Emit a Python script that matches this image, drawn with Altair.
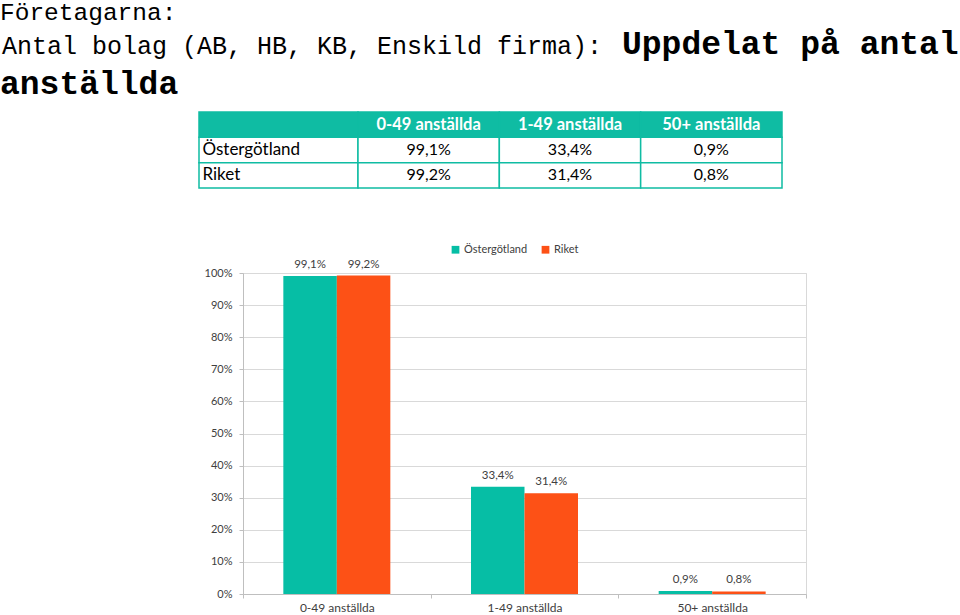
import altair as alt
import pandas as pd

# ---------------- data ----------------
categories = ["0-49 anställda", "1-49 anställda", "50+ anställda"]
regions = ["Östergötland", "Riket"]
ostergotland = [99.1, 33.4, 0.9]
riket = [99.2, 31.4, 0.8]
y_ticks = [0, 10, 20, 30, 40, 50, 60, 70, 80, 90, 100]

title_line1 = "Företagarna:"
title_line2a = "Antal bolag (AB, HB, KB, Enskild firma):"
title_line2b = "Uppdelat på antal"
title_line3 = "anställda"

TEAL = "#06bea5"
ORANGE = "#fd5116"
TABLE_TEAL = "#0fbca3"
FONT = "Lato"
MONO = "Liberation Mono"


def sv_pct(v):
    return f"{v:.1f}".replace(".", ",") + "%"


rows = []
for r, vals in zip(regions, [ostergotland, riket]):
    for c, v in zip(categories, vals):
        rows.append({"region": r, "category": c, "value": v})
df = pd.DataFrame(rows)

# ---------------- bar chart ----------------
fmt_expr = "replace(format(datum.value, '.1f'), '.', ',') + '%'"

base = alt.Chart(df).encode(
    x=alt.X(
        "category:N",
        sort=categories,
        scale=alt.Scale(domain=categories, paddingInner=0, paddingOuter=0),
        axis=alt.Axis(
            title=None, labelAngle=0, tickBand="extent", tickSize=4,
            labelPadding=4, labelFont=FONT, labelFontSize=12,
            labelColor="#404040", domainColor="#bfbfbf", tickColor="#bfbfbf",
            grid=False,
        ),
    ),
    xOffset=alt.XOffset(
        "region:N", sort=regions,
        scale=alt.Scale(domain=regions, paddingInner=0, paddingOuter=0.754),
    ),
    y=alt.Y(
        "value:Q",
        scale=alt.Scale(domain=[0, 100], nice=False),
        axis=alt.Axis(
            title=None, values=y_ticks, labelExpr="datum.value + '%'",
            grid=True, gridColor="#d9d9d9", domainColor="#bfbfbf",
            tickColor="#bfbfbf", tickSize=4, labelPadding=7,
            labelFont=FONT, labelFontSize=11, labelColor="#404040",
        ),
    ),
)

bars = base.mark_bar().encode(
    color=alt.Color(
        "region:N", sort=regions,
        scale=alt.Scale(domain=regions, range=[TEAL, ORANGE]),
        legend=alt.Legend(
            orient="none", legendX=207, legendY=-29, direction="horizontal",
            title=None, symbolType="square", symbolSize=60, symbolStrokeWidth=0,
            labelFont=FONT, labelFontSize=11, labelColor="#404040",
            columnPadding=12, padding=0, labelOffset=3,
        ),
    )
)
labels = base.transform_calculate(label=fmt_expr).mark_text(
    dy=-8, font=FONT, fontSize=11.5, color="#404040", baseline="alphabetic"
).encode(text="label:N")

bar_chart = alt.layer(bars, labels)

# ---------------- table ----------------
row_keys = ["_hdr"] + regions
lab_rows = [{"row": "_hdr", "col": "label", "text": ""}] + [
    {"row": r, "col": "label", "text": r} for r in regions
]
val_rows = [{"row": "_hdr", "col": c, "text": c} for c in categories]
for r, vals in zip(regions, [ostergotland, riket]):
    for c, v in zip(categories, vals):
        val_rows.append({"row": r, "col": c, "text": sv_pct(v)})
lab_df = pd.DataFrame(lab_rows)
val_df = pd.DataFrame(val_rows)

ty = alt.Y(
    "row:N", sort=row_keys,
    scale=alt.Scale(domain=row_keys, range=[-161, -85], paddingInner=0, paddingOuter=0),
    axis=None,
)
lx_scale = alt.Scale(domain=["label"], range=[-44, 115], paddingInner=0, paddingOuter=0)
vx_scale = alt.Scale(domain=categories, range=[115, 539], paddingInner=0, paddingOuter=0)

fill_cond = alt.condition("datum.row == '_hdr'", alt.value(TABLE_TEAL), alt.value("white"))

lab_rect = alt.Chart(lab_df).mark_rect(stroke=TABLE_TEAL, strokeWidth=1.5).encode(
    x=alt.X("col:N", scale=lx_scale, axis=None), y=ty, fill=fill_cond
)
lab_text = alt.Chart(lab_df).transform_filter("datum.row != '_hdr'").mark_text(
    align="left", baseline="middle", dx=-76, font=FONT, fontSize=17, color="black"
).encode(x=alt.X("col:N", scale=lx_scale, axis=None), y=ty, text="text:N")

val_rect = alt.Chart(val_df).mark_rect(stroke=TABLE_TEAL, strokeWidth=1.5).encode(
    x=alt.X("col:N", scale=vx_scale, axis=None), y=ty, fill=fill_cond
)
hdr_text = alt.Chart(val_df).transform_filter("datum.row == '_hdr'").mark_text(
    align="center", baseline="middle", font=FONT, fontSize=16.5, fontWeight="bold", color="white"
).encode(x=alt.X("col:N", scale=vx_scale, axis=None), y=ty, text="text:N")
body_text = alt.Chart(val_df).transform_filter("datum.row != '_hdr'").mark_text(
    align="center", baseline="middle", font=FONT, fontSize=16, color="black"
).encode(x=alt.X("col:N", scale=vx_scale, axis=None), y=ty, text="text:N")

# ---------------- title texts ----------------
def title_text(txt, x, y, size, weight="normal"):
    return alt.Chart(pd.DataFrame({"t": [txt]})).mark_text(
        align="left", baseline="alphabetic", font=MONO, fontSize=size,
        fontWeight=weight, color="black",
    ).encode(x=alt.value(x), y=alt.value(y), text="t:N")


t1 = title_text(title_line1, -243, 20 - 273, 24.5)
t2a = title_text(title_line2a, -241, 54 - 273, 25)
t2b = title_text(title_line2b, 622 - 243, 54 - 273, 33, "bold")
t3 = title_text(title_line3, -243, 94 - 273, 33, "bold")

chart = alt.layer(
    t1, t2a, t2b, t3,
    lab_rect, lab_text, val_rect, hdr_text, body_text,
    bar_chart,
).resolve_scale(
    x="independent", y="independent"
).properties(
    width=563, height=321,
    padding={"left": 243, "top": 273, "right": 154, "bottom": 21},
    autosize=alt.AutoSizeParams(type="none"),
    background="white",
).configure_view(stroke="#d9d9d9", strokeWidth=1)

chart.save("out.html", embed_options={"renderer": "svg", "actions": False})
